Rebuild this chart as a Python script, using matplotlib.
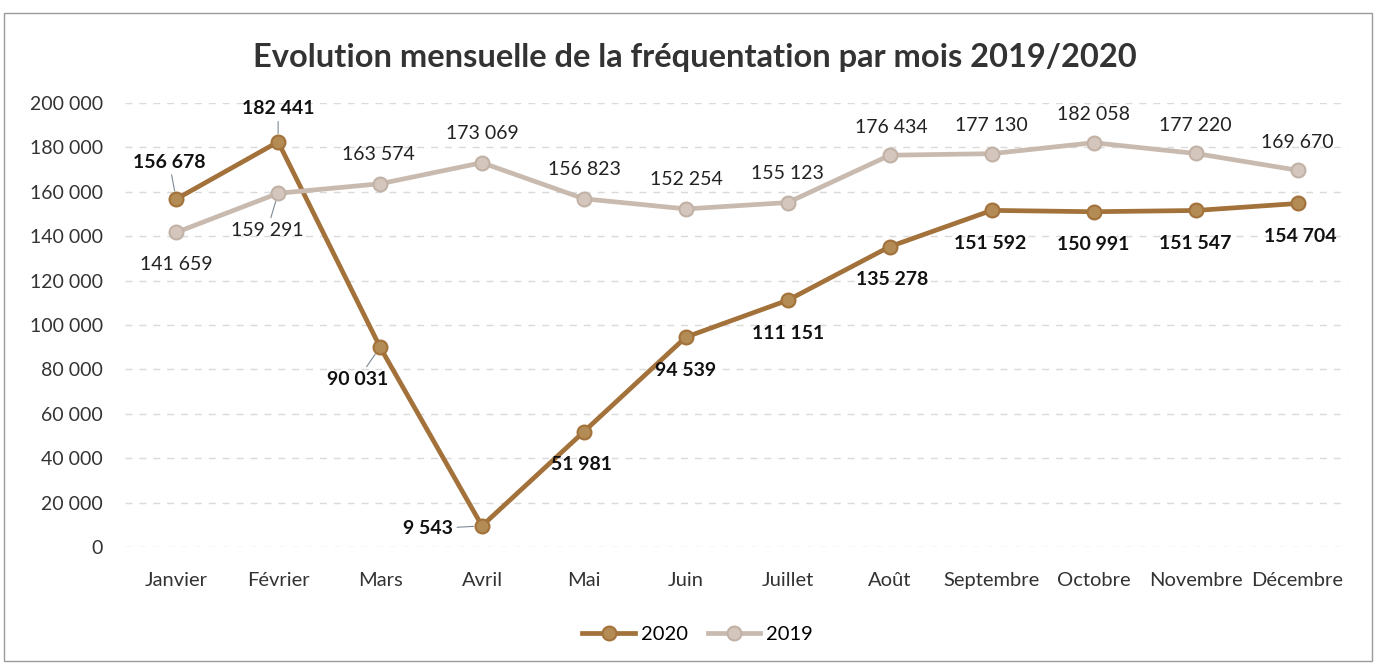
import matplotlib.pyplot as plt
from matplotlib.patches import Rectangle
from matplotlib.ticker import FuncFormatter

mois = ["Janvier", "Février", "Mars", "Avril", "Mai", "Juin", "Juillet",
        "Août", "Septembre", "Octobre", "Novembre", "Décembre"]
freq_2020 = [156678, 182441, 90031, 9543, 51981, 94539, 111151,
             135278, 151592, 150991, 151547, 154704]
freq_2019 = [141659, 159291, 163574, 173069, 156823, 152254, 155123,
             176434, 177130, 182058, 177220, 169670]

# label offsets (pixels) relative to each point; True = draw a leader line
off_2020 = [(-7, 37), (0, 33), (-22, -32), (-54, -3), (-2, -33), (0, -33),
            (0, -33), (2, -33), (-2, -33), (0, -33), (0, -33), (3, -33)]
lead_2020 = [True, True, True, True] + [False] * 8
off_2019 = [(0, -32), (-11, -37), (-2, 29), (0, 29), (0, 29), (0, 29),
            (0, 29), (2, 28), (0, 28), (0, 28), (0, 28), (0, 28)]
lead_2019 = [False, True] + [False] * 10

COL_2020 = "#a3713a"
COL_2019 = "#c9bab0"
FONT = ["Lato", "DejaVu Sans"]


def fmt_fr(v, pos=None):
    return f"{int(v):,}".replace(",", " ")


def leader(flag):
    if not flag:
        return None
    return dict(arrowstyle="-", color="#7d8a96", lw=0.8, shrinkA=1, shrinkB=6)


fig = plt.figure(figsize=(13.76, 6.68), dpi=100)
ax = fig.add_axes([0.091, 0.181, 0.889, 0.665])

x = list(range(len(mois)))
ax.plot(x, freq_2020, color=COL_2020, lw=3.4, marker="o", ms=10,
        mfc="#b38b55", mec=COL_2020, mew=1.5, label="2020", zorder=3)
ax.plot(x, freq_2019, color=COL_2019, lw=3.4, marker="o", ms=10,
        mfc="#d4c6bd", mec="#c2b2a6", mew=1.5, label="2019", zorder=3)

for xi, v, (dx, dy), ld in zip(x, freq_2020, off_2020, lead_2020):
    ax.annotate(fmt_fr(v), (xi, v), xytext=(dx, dy), textcoords="offset pixels",
                ha="center", va="center", fontsize=14, fontweight="bold",
                family=FONT, color="#111111", arrowprops=leader(ld))
for xi, v, (dx, dy), ld in zip(x, freq_2019, off_2019, lead_2019):
    ax.annotate(fmt_fr(v), (xi, v), xytext=(dx, dy), textcoords="offset pixels",
                ha="center", va="center", fontsize=14, family=FONT,
                color="#222222", arrowprops=leader(ld))

ax.set_xlim(-0.5, len(mois) - 0.5)
ax.set_ylim(0, 200000)
ax.set_yticks(range(0, 200001, 20000))
ax.yaxis.set_major_formatter(FuncFormatter(fmt_fr))
ax.set_xticks(x)
ax.set_xticklabels(mois)
for lbl in ax.get_xticklabels():
    lbl.set_family(FONT)
    lbl.set_fontsize(14.5)
    lbl.set_color("#333333")
for lbl in ax.get_yticklabels():
    lbl.set_family(FONT)
    lbl.set_fontsize(14)
    lbl.set_color("#333333")
ax.tick_params(length=0)
ax.tick_params(axis="x", pad=18)
ax.tick_params(axis="y", pad=16)
for s in ax.spines.values():
    s.set_visible(False)
ax.grid(axis="y", color="#dadada", lw=1, linestyle=(0, (5, 5)))
ax.set_axisbelow(True)

fig.text(0.505, 0.914, "Evolution mensuelle de la fréquentation par mois 2019/2020",
         ha="center", va="center", fontsize=23.5, fontweight="bold", family=FONT,
         color="#333333")

ax.legend(loc="center", bbox_to_anchor=(0.468, -0.197), ncol=2,
          frameon=False, prop={"family": FONT, "size": 14.5},
          handlelength=2.6, columnspacing=1.0, handletextpad=0.3)

fig.patches.append(Rectangle((0.003, 0.01), 0.994, 0.97, transform=fig.transFigure,
                             fill=False, edgecolor="#9a9a9a", lw=1))

fig.savefig("out.png", dpi=100)
